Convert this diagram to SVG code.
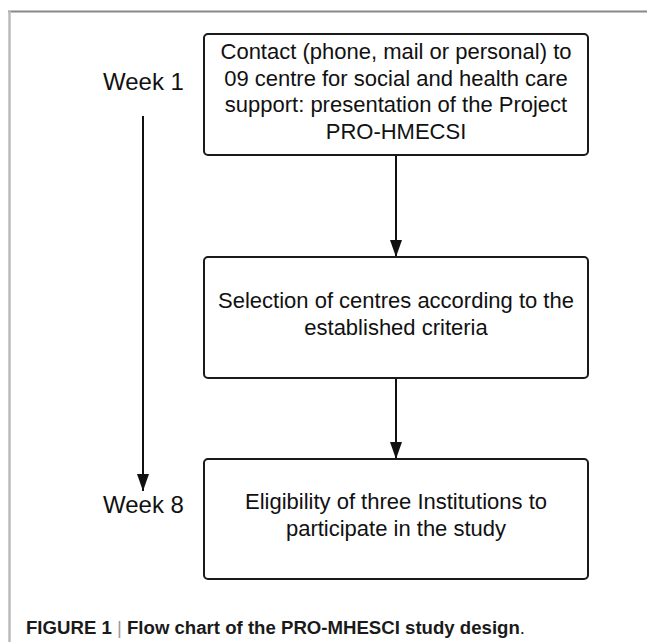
<svg xmlns="http://www.w3.org/2000/svg" width="647" height="642" viewBox="0 0 647 642">
<defs>
<style>
.box{fill:#fff;stroke:#1a1a1a;stroke-width:2}
.t{font-family:"Liberation Sans",Arial,sans-serif;font-size:22px;fill:#111;text-anchor:middle}
.wk{font-family:"Liberation Sans",Arial,sans-serif;font-size:24px;fill:#111}
.ln{stroke:#111;stroke-width:2;fill:none}
.cap{font-family:"Liberation Sans",Arial,sans-serif;font-size:18px;font-weight:bold;fill:#1a1a1a}
</style>
<marker id="ah" markerWidth="17" markerHeight="12" refX="17" refY="6" orient="auto" markerUnits="userSpaceOnUse" viewBox="0 0 17 12">
<path d="M0,0 L17,6 L0,12 Z" fill="#111"/>
</marker>
</defs>
<rect width="647" height="642" fill="#fff"/>
<g id="frame">
<line x1="8" y1="11.5" x2="647" y2="11.5" stroke="#888" stroke-width="2"/>
<line x1="9.5" y1="11" x2="9.5" y2="642" stroke="#bbb" stroke-width="2.5"/>
</g>
<g id="connectors">
<line class="ln" x1="143" y1="116" x2="143" y2="491" marker-end="url(#ah)"/>
<line class="ln" x1="396" y1="156" x2="396" y2="257" marker-end="url(#ah)"/>
<line class="ln" x1="396" y1="378" x2="396" y2="459" marker-end="url(#ah)"/>
</g>
<g id="week1"><text class="wk" x="103" y="90">Week 1</text></g>
<g id="week8"><text class="wk" x="103" y="513">Week 8</text></g>
<g id="node1">
<rect class="box" x="204" y="34" width="384" height="121" rx="4"/>
<text class="t" x="396" y="59">Contact (phone, mail or personal) to</text>
<text class="t" x="396" y="85.5">09 centre for social and health care</text>
<text class="t" x="396" y="112">support: presentation of the Project</text>
<text class="t" x="396" y="138.5">PRO-HMECSI</text>
</g>
<g id="node2">
<rect class="box" x="204" y="257" width="384" height="121" rx="4"/>
<text class="t" x="396" y="308">Selection of centres according to the</text>
<text class="t" x="396" y="335">established criteria</text>
</g>
<g id="node3">
<rect class="box" x="204" y="459" width="384" height="120" rx="4"/>
<text class="t" x="396" y="509">Eligibility of three Institutions to</text>
<text class="t" x="396" y="536">participate in the study</text>
</g>
<g id="caption">
<text class="cap" x="26" y="634" textLength="499" lengthAdjust="spacingAndGlyphs">FIGURE 1 <tspan font-weight="normal" fill="#999">|</tspan> Flow chart of the PRO-MHESCI study design<tspan font-weight="normal">.</tspan></text>
</g>
</svg>
